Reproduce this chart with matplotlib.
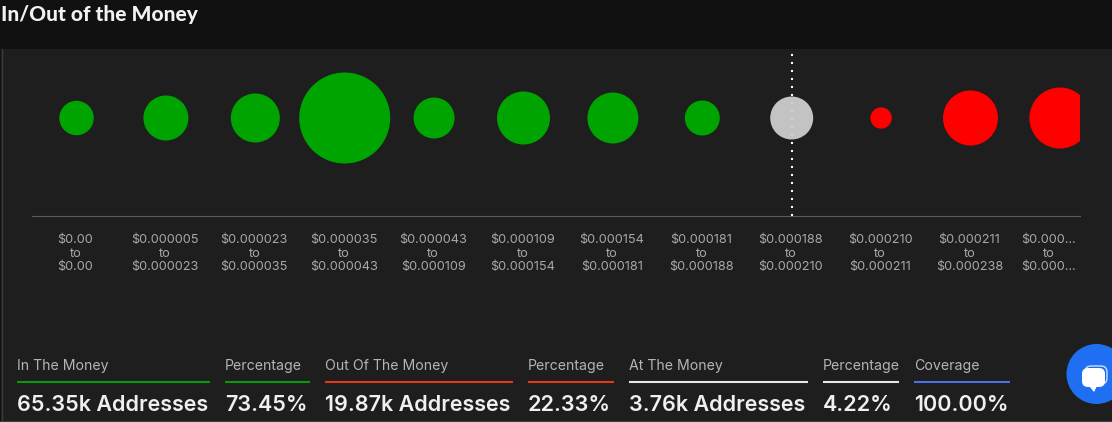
#!/usr/bin/env python3
import matplotlib
matplotlib.use("Agg")
import matplotlib.pyplot as plt
from matplotlib.lines import Line2D
from matplotlib.patches import Circle, FancyBboxPatch, Polygon, Rectangle
from matplotlib.transforms import ScaledTranslation

W, H = 1112, 422

# addresses in each price bucket, thousands
low = ["$0.00", "$0.000005", "$0.000023", "$0.000035", "$0.000043", "$0.000109",
       "$0.000154", "$0.000181", "$0.000188", "$0.000210", "$0.000211", "$0.000..."]
high = ["$0.00", "$0.000023", "$0.000035", "$0.000043", "$0.000109", "$0.000154",
        "$0.000181", "$0.000188", "$0.000210", "$0.000211", "$0.000238", "$0.000..."]
addresses = [2.41, 4.12, 4.89, 16.85, 3.42, 5.72, 5.29, 2.49, 3.76, 0.93, 6.16, 7.57]
status = ["in", "in", "in", "in", "in", "in", "in", "in", "at", "out", "out", "out"]

stat_labels = ["In The Money", "Percentage", "Out Of The Money", "Percentage",
               "At The Money", "Percentage", "Coverage"]
stat_values = ["65.35k Addresses", "73.45%", "19.87k Addresses", "22.33%",
               "3.76k Addresses", "4.22%", "100.00%"]
stat_kinds = ["in", "in", "out", "out", "at", "at", "cov"]

bubble_colors = {"in": "#00a400", "out": "#ff0000", "at": "#cfcfcff0"}
line_colors = {"in": "#0b9a0b", "out": "#e03a1c", "at": "#e6e6e6", "cov": "#4a72e8"}
stat_x = [(17, 210), (225, 310), (325, 513), (528, 614), (629, 808), (823, 899), (914, 1010)]


def fx(px):
    return px / W


def fy(py):
    return 1 - py / H


fig = plt.figure(figsize=(W / 100, H / 100), dpi=100, facecolor="#111111")

# panel behind the chart
fig.add_artist(Rectangle((fx(1), 0), 1, fy(49), transform=fig.transFigure,
                         facecolor="#1e1e1e", edgecolor="none", zorder=-2))
fig.add_artist(Line2D([fx(1.5), fx(1.5)], [fy(49), 0], color="#3a3a3a", lw=1, zorder=-1))
fig.add_artist(Line2D([0, 1], [fy(421), fy(421)], color="#3a3a3a", lw=1, zorder=-1))

fig.text(fx(1), fy(15), "In/Out of the Money", color="#f2f2f2", fontsize=15,
         family="Lato", fontweight="black", va="center", ha="left")

ax = fig.add_axes([fx(32), fy(216), fx(1080 - 32), (216 - 50) / H])
ax.patch.set_alpha(0)
for s in ["top", "left", "right"]:
    ax.spines[s].set_visible(False)
ax.spines["bottom"].set_color("#5a5a5a")
ax.spines["bottom"].set_linewidth(0.8)

xs = list(range(len(addresses)))
ax.axvline(8, ymin=0, ymax=0.988, color="white", lw=1.5, dashes=(1, 2.84), zorder=1)
ax.scatter(xs, [0] * len(xs), s=[a * 254.7 for a in addresses],
           c=[bubble_colors[k] for k in status], linewidths=0, zorder=2)
ax.set_xlim(-0.498, 11.225)
ax.set_ylim(-98, 68)
ax.set_yticks([])
ax.set_xticks(xs)
ax.set_xticklabels([f"{a}\nto\n{b}" for a, b in zip(low, high)], color="#a8a8a8",
                   fontsize=9.15, family="Inter", linespacing=1.18)
ax.tick_params(axis="x", length=0, pad=13)

# labels sit a touch left of the bubbles, the truncated last one more so
for i, lab in enumerate(ax.get_xticklabels()):
    shift = -11 if i == len(xs) - 1 else -1
    lab.set_transform(lab.get_transform() + ScaledTranslation(shift / 100, 0, fig.dpi_scale_trans))

# stat row at the bottom
for (x0, x1), label, value, kind in zip(stat_x, stat_labels, stat_values, stat_kinds):
    fig.text(fx(x0), fy(366), label, color="#b4b4b4", fontsize=10.2, family="Inter",
             va="center", ha="left")
    fig.add_artist(Line2D([fx(x0), fx(x1)], [fy(382), fy(382)], color=line_colors[kind],
                          lw=1.5, solid_capstyle="butt"))
    fig.text(fx(x0), fy(405), value, color="#f0f0f0", fontsize=15.5, family="Inter",
             fontweight="semibold", va="center", ha="left")

# chat button
overlay = fig.add_axes([0, 0, 1, 1], facecolor="none")
overlay.set_xlim(0, W)
overlay.set_ylim(H, 0)
overlay.axis("off")
overlay.add_patch(Circle((1096.5, 374), 30, facecolor="#1f6ff2", edgecolor="none"))
overlay.add_patch(FancyBboxPatch((1085, 366), 22, 18, boxstyle="round,pad=0,rounding_size=6",
                                 facecolor="none", edgecolor="#cfe0ff", lw=1))
overlay.add_patch(FancyBboxPatch((1082, 368), 23, 19, boxstyle="round,pad=0,rounding_size=6",
                                 facecolor="white", edgecolor="none"))
overlay.add_patch(Polygon([(1089, 386), (1097, 386), (1094, 392)], facecolor="white",
                          edgecolor="none"))

fig.savefig("out.png", dpi=100, facecolor=fig.get_facecolor())
